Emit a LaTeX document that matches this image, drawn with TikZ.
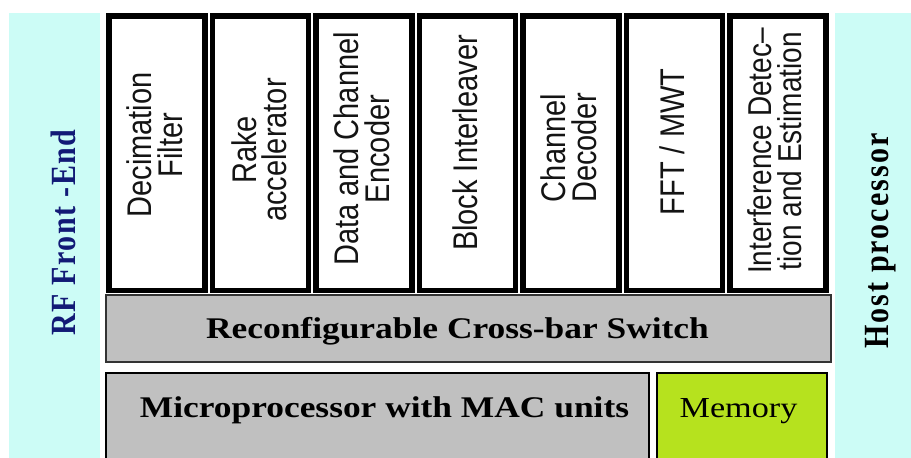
\documentclass[tikz,border=0pt]{standalone}
\usepackage{fontspec}
\setmainfont{Liberation Serif}
\setsansfont{Liberation Sans}
\usetikzlibrary{positioning}

\definecolor{panelcyan}{RGB}{204,252,246}
\definecolor{barsilver}{RGB}{192,192,192}
\definecolor{memgreen}{RGB}{182,226,30}
\definecolor{rfnavy}{RGB}{18,26,118}

\tikzset{
  side/.style={fill=panelcyan, draw=none},
  unitbox/.style={draw=black, line width=5.5pt, fill=white, inner sep=0pt,
    minimum width=96pt, minimum height=274.5pt},
  unittext/.style={xscale=1.18, rotate=90, inner sep=0pt, align=center,
    font=\sffamily\fontsize{29}{26}\selectfont, text=black!92},
  graybox/.style={draw=black!80, line width=1.4pt, fill=barsilver, inner sep=0pt},
  bigtext/.style={xscale=1.18, inner sep=0pt, anchor=base,
    font=\bfseries\fontsize{30}{30}\selectfont},
  sidetext/.style={xscale=1.18, rotate=90, inner sep=0pt, anchor=base,
    font=\bfseries\fontsize{30}{30}\selectfont}
}

\begin{document}
\begin{tikzpicture}[x=1pt, y=-1pt]
        \useasboundingbox (0,0) rectangle (911,458);
        \clip (0,0) rectangle (911,458);
        % ==== SIDE PANELS ====
        \fill[side] (9,13) rectangle (100,460);
        \fill[side] (835,13) rectangle (913,460);
        \node[sidetext, text=rfnavy] (rf) at (75,232.5)
            {\addfontfeature{LetterSpace=5}RF Front -End};
        \node[sidetext] (host) at (888,241)
            {\addfontfeature{LetterSpace=7}Host processor};

        % ==== PROCESSING UNITS ====
        \node[unitbox] (decimbox) at (156.75,153) {};
        \node[unitbox] (rakebox) at (260.25,153) {};
        \node[unitbox] (encbox) at (363.75,153) {};
        \node[unitbox] (ilvbox) at (467.25,153) {};
        \node[unitbox] (decbox) at (570.75,153) {};
        \node[unitbox] (fftbox) at (674.25,153) {};
        \node[unitbox] (ifbox) at (777.75,153) {};
        \node[unittext] (decim) at ([xshift=-2pt, yshift=8pt]decimbox.center) {Decimation\\Filter};
        \node[unittext] (rake) at ([xshift=-1pt, yshift=3pt]rakebox.center) {Rake\\accelerator};
        \node[unittext] (enc) at ([xshift=-2pt, yshift=4pt]encbox.center) {Data and Channel\\Encoder};
        \node[unittext] (ilv) at ([xshift=-2pt, yshift=10pt]ilvbox.center) {Block Interleaver};
        \node[unittext] (dec) at ([xshift=-2pt, yshift=5pt]decbox.center) {Channel\\Decoder};
        \node[unittext] (fft) at ([xshift=-2pt, yshift=11pt]fftbox.center) {FFT / MWT};
        \node[unittext, font=\sffamily\fontsize{28}{25}\selectfont] (interf)
            at ([xshift=-3pt, yshift=2pt]ifbox.center) {Interference Detec–\\tion and Estimation};

        % ==== CROSS-BAR ====
        \node[graybox, minimum width=725pt, minimum height=67pt] (xbarbox) at (468.5,328.5) {};
        \node[bigtext] (xbar) at (457.5,338) {Reconfigurable Cross-bar Switch};

        % ==== MICROPROCESSOR AND MEMORY ====
        \node[graybox, draw=black, minimum width=543pt, minimum height=100pt] (mpbox) at (377.5,423) {};
        \node[graybox, draw=black, fill=memgreen, minimum width=170pt, minimum height=100pt] (membox) at (742,423) {};
        \node[bigtext] (mp) at (384.5,417) {Microprocessor with MAC units};
        \node[bigtext, font=\fontsize{29}{29}\selectfont] (mem) at (738.5,417) {Memory};
\end{tikzpicture}
\end{document}
